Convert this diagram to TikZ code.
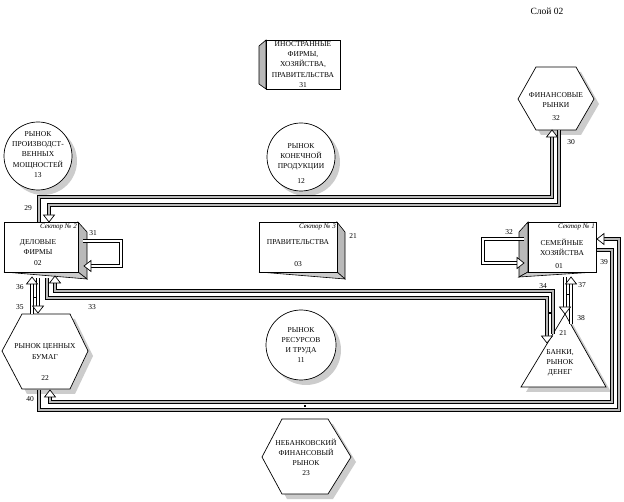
\documentclass[tikz,border=0pt]{standalone}
\usepackage{fontspec}
\setmainfont{Liberation Serif}
\tikzset{
  txt/.style={font=\fontsize{7.5}{10.2}\selectfont, inner sep=0pt, align=center},
  num/.style={font=\fontsize{7.5}{9}\selectfont, inner sep=0pt},
  sect/.style={font=\itshape\fontsize{7}{8}\selectfont, inner sep=0pt, anchor=east},
  outl/.style={draw=black, fill=white, line width=0.7pt, line join=miter},
  shd/.style={fill=gray!40, draw=none},
  sideface/.style={fill=gray!55, draw=black, line width=0.6pt},
  botface/.style={fill=gray!40, draw=black, line width=0.6pt},
  rib/.style={draw=black, line width=0.85pt, double=gray!55, double distance=2.5pt, line join=miter},
  ribw/.style={draw=black, line width=0.85pt, double=white, double distance=2.5pt, line join=miter},
  jmark/.style={fill=black, draw=none},
  pics/ahdown/.style={code={\draw[outl] (0,0) -- (-5.5,-7) -- (5.5,-7) -- cycle;}},
  pics/ahup/.style={code={\draw[outl] (0,0) -- (-5.5,7) -- (5.5,7) -- cycle;}},
  pics/ahleft/.style={code={\draw[outl] (0,0) -- (7,-5.5) -- (7,5.5) -- cycle;}},
  pics/ahright/.style={code={\draw[outl] (0,0) -- (-7,-5.5) -- (-7,5.5) -- cycle;}},
}
\begin{document}
\begin{tikzpicture}[x=1pt,y=-1pt]
\useasboundingbox (0,0) rectangle (624,502);
\fill[white] (0,0) rectangle (624,502);

\node[font=\fontsize{9.5}{11}\selectfont, inner sep=0pt] (layer) at (547,11) {Слой 02};

% ---------- box 31
\draw[sideface] (266,40) -- (259,46) -- (259,84) -- (266,89) -- cycle;
\draw[outl] (266,40) rectangle (340,89);
\node[txt] (b31) at (303,64.5) {ИНОСТРАННЫЕ\\ФИРМЫ,\\ХОЗЯЙСТВА,\\ПРАВИТЕЛЬСТВА\\31};

% ---------- hexagon 32
\begin{scope}[shift={(5,5)}]
\fill[shd] (518,99) -- (536,67) -- (576,67) -- (594,99) -- (576,130) -- (536,130) -- cycle;
\end{scope}
\draw[outl] (518,99) -- (536,67) -- (576,67) -- (594,99) -- (576,130) -- (536,130) -- cycle;
\node[txt] (h32) at (556,100) {ФИНАНСОВЫЕ\\РЫНКИ};
\node[num] (h32n) at (556,118) {32};

% ---------- circle 13
\fill[shd] (43,161) circle[radius=34pt];
\draw[outl] (38,156) circle[radius=34pt];
\node[txt] (c13) at (38,154.5) {РЫНОК\\ПРОИЗВОДСТ-\\ВЕННЫХ\\МОЩНОСТЕЙ\\13};

% ---------- circle 12
\fill[shd] (306,162) circle[radius=34pt];
\draw[outl] (301,157) circle[radius=34pt];
\node[txt] (c12) at (301,157) {РЫНОК\\КОНЕЧНОЙ\\ПРОДУКЦИИ};
\node[num] (c12n) at (301,181) {12};

% ---------- circle 11
\fill[shd] (306,350) circle[radius=35pt];
\draw[outl] (301,345) circle[radius=35pt];
\node[txt] (c11) at (301,345) {РЫНОК\\РЕСУРСОВ\\И ТРУДА\\11};

% ---------- box 02
\draw[sideface] (78,222) -- (87,232) -- (87,279) -- (78,272) -- cycle;
\draw[botface] (4,272) -- (78,272) -- (87,279) -- cycle;
\draw[outl] (4,222) rectangle (78,272);
\node[sect] (s2) at (77,226.5) {Сектор № 2};
\node[txt] (b02) at (38,247) {ДЕЛОВЫЕ\\ФИРМЫ};
\node[num] (b02n) at (38,263) {02};

% ---------- box 03
\draw[sideface] (337,222) -- (345,232) -- (345,279) -- (337,272) -- cycle;
\draw[botface] (259,272) -- (337,272) -- (345,279) -- cycle;
\draw[outl] (259,222) rectangle (337,272);
\node[sect] (s3) at (336,226.5) {Сектор № 3};
\node[txt] (b03) at (298,242) {ПРАВИТЕЛЬСТВА};
\node[num] (b03n) at (298,264) {03};
\node[num] (l21) at (353,236) {21};

% ---------- box 01
\draw[sideface] (528,222) -- (519,232) -- (519,277) -- (528,272) -- cycle;
\draw[botface] (519,277) -- (528,272) -- (596,272) -- cycle;
\draw[outl] (528,222) rectangle (596,272);
\node[sect] (s1) at (595,226.5) {Сектор № 1};
\node[txt] (b01) at (562,247) {СЕМЕЙНЫЕ\\ХОЗЯЙСТВА};
\node[num] (b01n) at (559,266) {01};

% ---------- hexagon 22
\begin{scope}[shift={(5,5)}]
\fill[shd] (2,351) -- (22,314) -- (70,314) -- (88,351) -- (70,389) -- (22,389) -- cycle;
\end{scope}
\draw[outl] (2,351) -- (22,314) -- (70,314) -- (88,351) -- (70,389) -- (22,389) -- cycle;
\node[txt] (h22) at (45,351.5) {РЫНОК ЦЕННЫХ\\БУМАГ};
\node[num] (h22n) at (45,378) {22};

% ---------- triangle 21
\fill[shd] (570,319) -- (611,392) -- (526,392) -- cycle;
\draw[outl] (565,314) -- (606,387) -- (521,387) -- cycle;
\node[num] (t21n) at (563,333) {21};
\node[txt] (t21) at (560,363) {БАНКИ,\\РЫНОК\\ДЕНЕГ};

% ---------- hexagon 23
\begin{scope}[shift={(5,5)}]
\fill[shd] (262,457) -- (282,419) -- (328,419) -- (351,457) -- (328,494) -- (282,494) -- cycle;
\end{scope}
\draw[outl] (262,457) -- (282,419) -- (328,419) -- (351,457) -- (328,494) -- (282,494) -- cycle;
\node[txt] (h23) at (306,457.5) {НЕБАНКОВСКИЙ\\ФИНАНСОВЫЙ\\РЫНОК\\23};

% ---------- connector end points
\coordinate (a29s) at (39,222);   \coordinate (a29e) at (552,137);  \coordinate (a29t) at (552,130);
\coordinate (a30s) at (559,130);  \coordinate (a30e) at (49,215);   \coordinate (a30t) at (49,222);
\coordinate (a31s) at (83,241);   \coordinate (a31e) at (91,266);   \coordinate (a31t) at (84,266);
\coordinate (a32s) at (524,239);  \coordinate (a32e) at (517,263);  \coordinate (a32t) at (524,263);
\coordinate (a33s) at (47,278);   \coordinate (a33e) at (547,336);  \coordinate (a33t) at (547,343);
\coordinate (a34s) at (553,334);  \coordinate (a34e) at (55,283);   \coordinate (a34t) at (55,276);
\coordinate (a35s) at (38,278);   \coordinate (a35e) at (38,306);   \coordinate (a35t) at (38,313);
\coordinate (a36s) at (32,314);   \coordinate (a36e) at (32,284);   \coordinate (a36t) at (32,277);
\coordinate (a37s) at (571,324);  \coordinate (a37e) at (571,284);  \coordinate (a37t) at (571,277);
\coordinate (a38s) at (565,277);  \coordinate (a38e) at (565,307);  \coordinate (a38t) at (565,314);
\coordinate (a39s) at (597,250);  \coordinate (a39e) at (50,397);   \coordinate (a39t) at (50,390);
\coordinate (a40s) at (39,390);   \coordinate (a40e) at (604,239);  \coordinate (a40t) at (597,239);

% ---------- connectors
\draw[rib] (a29s) -- (39,197) -- (552,197) -- (a29e);
\draw[rib] (a30s) -- (559,205) -- (49,205) -- (a30e);
\draw[ribw] (a31s) -- (121,241) -- (121,266) -- (a31e);
\draw[ribw] (a32s) -- (483,239) -- (483,263) -- (a32e);
\draw[rib] (a33s) -- (47,298) -- (547,298) -- (a33e);
\draw[rib] (a34s) -- (553,291) -- (55,291) -- (a34e);
\draw[ribw] (a35s) -- (a35e);
\draw[ribw] (a36s) -- (a36e);
\draw[ribw] (a37s) -- (a37e);
\draw[ribw] (a38s) -- (a38e);
\draw[rib] (a39s) -- (612,250) -- (612,402) -- (50,402) -- (a39e);
\draw[rib] (a40s) -- (39,410) -- (619,410) -- (619,239) -- (a40e);

\pic at (a29t) {ahup};
\pic at (a30t) {ahdown};
\pic at (a31t) {ahleft};
\pic at (a32t) {ahright};
\pic at (a33t) {ahdown};
\pic at (a34t) {ahup};
\pic at (a35t) {ahdown};
\pic at (a36t) {ahup};
\pic at (a37t) {ahup};
\pic at (a38t) {ahdown};
\pic at (a39t) {ahup};
\pic at (a40t) {ahleft};

% small junction marks
\draw[line width=1pt] (34,298) -- (36,298);
\draw[line width=1pt] (567,295) -- (569,295);
\fill[jmark] (549,312) rectangle (551,314);
\fill[jmark] (304,405) rectangle (306,407);

% ---------- connector labels
\node[num] (n29) at (28,208) {29};
\node[num] (n30) at (571,142) {30};
\node[num] (n31) at (93,233) {31};
\node[num] (n32) at (509,232) {32};
\node[num] (n33) at (92,307) {33};
\node[num] (n34) at (543,286) {34};
\node[num] (n35) at (20,307) {35};
\node[num] (n36) at (20,287) {36};
\node[num] (n37) at (582,285) {37};
\node[num] (n38) at (581,318) {38};
\node[num] (n39) at (604,262) {39};
\node[num] (n40) at (30,399) {40};
\end{tikzpicture}
\end{document}
